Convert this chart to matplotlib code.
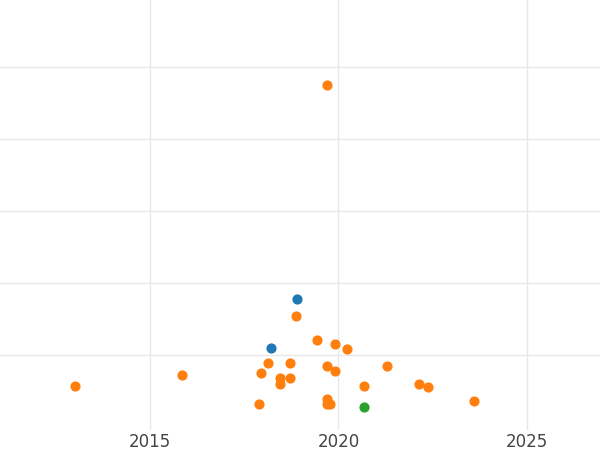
import matplotlib
matplotlib.use('Agg')
import matplotlib.pyplot as plt

orange_x = [2013.02, 2015.85, 2017.89, 2017.94, 2018.12, 2018.44, 2018.44, 2018.71, 2018.71,
            2018.87, 2019.42, 2019.69, 2019.69, 2019.69, 2019.69, 2019.77, 2019.90, 2019.90,
            2020.24, 2020.69, 2021.28, 2022.13, 2022.37, 2023.61]
orange_y = [0.57, 0.72, 0.32, 0.75, 0.89, 0.68, 0.60, 0.89, 0.68,
            1.54, 1.21, 4.75, 0.85, 0.39, 0.32, 0.32, 0.78, 1.15,
            1.08, 0.57, 0.85, 0.60, 0.56, 0.36]
blue_x = [2018.90, 2018.21]
blue_y = [1.78, 1.10]
green_x = [2020.69]
green_y = [0.28]

fig = plt.figure(figsize=(6.0, 4.5), dpi=100)
ax = fig.add_axes([0.0, 0.044, 1.0, 0.956])
ax.set_axisbelow(True)
ax.scatter(orange_x, orange_y, s=40, color='#ff7f0e', zorder=3)
ax.scatter(blue_x, blue_y, s=40, color='#1f77b4', zorder=3)
ax.scatter(green_x, green_y, s=40, color='#2ca02c', zorder=3)
ax.set_xlim(2011.02, 2026.94)
ax.set_ylim(-0.04, 5.93)
ax.set_xticks([2015, 2020, 2025])
ax.set_yticks([1, 2, 3, 4, 5])
ax.set_yticklabels([])
ax.grid(True, color='#e8e8e8', linewidth=1)
ax.tick_params(axis='both', length=0, labelsize=12, labelcolor='#444444', pad=2)
for s in ax.spines.values():
    s.set_visible(False)
fig.savefig('out.png', dpi=100)
